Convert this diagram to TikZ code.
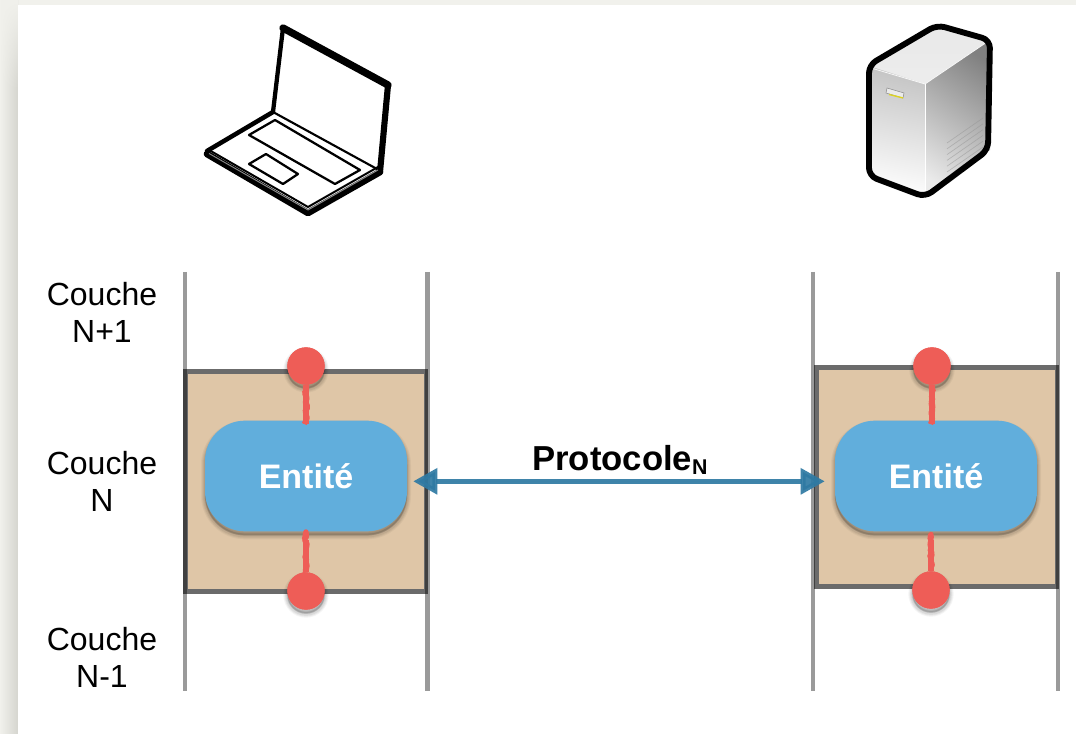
\documentclass[tikz,border=0pt]{standalone}
\usepackage{fontspec}
\setmainfont{Liberation Sans}
\usetikzlibrary{arrows.meta,shadows,decorations.pathmorphing,calc,fadings}
\definecolor{pagebg}{HTML}{F1F1EC}
\definecolor{pagedk}{HTML}{D5D5CF}
\definecolor{railc}{HTML}{9A9A9A}
\definecolor{tan}{HTML}{DFC6A7}
\definecolor{entc}{HTML}{61AEDC}
\definecolor{dotc}{HTML}{EE5D57}
\definecolor{arrowc}{HTML}{2F7AA3}
\tikzset{
  x=0.75pt,y=-0.75pt,
  softshadow/.style={
    drop shadow={shadow xshift=0pt,shadow yshift=-3pt,opacity=.04,fill=black,draw=black,line width=6pt},
    drop shadow={shadow xshift=0pt,shadow yshift=-3pt,opacity=.05,fill=black,draw=black,line width=4.5pt},
    drop shadow={shadow xshift=0pt,shadow yshift=-3pt,opacity=.06,fill=black,draw=black,line width=3pt},
    drop shadow={shadow xshift=0pt,shadow yshift=-2.5pt,opacity=.07,fill=black,draw=black,line width=1.5pt}},
  rail/.style={draw=railc,line width=3.6pt},
  layerfill/.style={fill=tan,minimum width=177pt,minimum height=161pt,inner sep=0pt},
  layerbox/.style={draw=black,draw opacity=.58,line width=3.6pt,minimum width=180.6pt,minimum height=164.6pt,inner sep=0pt},
  entity/.style={fill=entc,rounded corners=30pt,minimum width=151.5pt,minimum height=83pt,inner sep=0pt,softshadow},
  dot/.style={circle,fill=dotc,minimum size=28pt,inner sep=0pt,softshadow},
  stub/.style={draw=dotc,line width=4pt,postaction={draw=dotc,line width=4pt,line join=round,decorate,decoration={random steps,segment length=1.4pt,amplitude=.9pt}}},
  layertext/.style={font=\fontsize{24}{27.8}\selectfont,align=center,text=black},
  enttext/.style={font=\fontsize{25.5}{28}\selectfont\bfseries,text=white},
  laptopline/.style={draw=black,line join=round,line cap=round},
  srvline/.style={draw=black,line width=4.4pt,line join=round,rounded corners=6pt}
}
\begin{document}
\begin{tikzpicture}
\useasboundingbox (0,0) rectangle (1076,734);
\fill[pagebg] (0,0) rectangle (1076,734);
\shade[left color=pagebg,right color=pagedk] (0,0) rectangle (18,734);
\fill[pagebg,path fading=south] (0,0) rectangle (18,90);
\fill[white] (18,5) rectangle (1076,734);
% rails
\coordinate (r1t) at (185,272); \coordinate (r1b) at (185,691);
\coordinate (r2t) at (427.5,272); \coordinate (r2b) at (427.5,691);
\coordinate (r3t) at (813,272); \coordinate (r3b) at (813,691);
\coordinate (r4t) at (1058,272); \coordinate (r4b) at (1058,691);
\draw[rail] (r1t)--(r1b);
\draw[rail] (r2t)--(r2b);
\draw[rail] (r3t)--(r3b);
\draw[rail] (r4t)--(r4b);
% layer boxes
\node[layerfill] (fillL) at (305.5,481.5) {};
\node[layerfill] (fillR) at (936.5,477) {};
\node[layerbox] (boxL) at (305.5,481.5) {};
\node[layerbox] (boxR) at (936.5,477) {};
% entities and dots
\node[entity] (entL) at (306,476) {};
\node[entity] (entR) at (936,476) {};
\node[dot] (topL) at (306,366) {};
\node[dot] (botL) at (306,591) {};
\node[dot] (topR) at (932,366) {};
\node[dot] (botR) at (931,590) {};
\draw[stub,shorten >=-3pt] (topL) -- (topL |- entL.north);
\draw[stub,shorten >=6pt] (botL) -- (botL |- entL.south);
\draw[stub,shorten >=-3pt] (topR) -- (topR |- entR.north);
\draw[stub,shorten >=6pt] (botR) -- (botR |- entR.south);
\fill[dotc] (topL) circle (14pt) (botL) circle (14pt) (topR) circle (14pt) (botR) circle (14pt);
\node[enttext] (tL) at (306,476) {Entité};
\node[enttext] (tR) at (936,476) {Entité};
% protocol arrow
\draw[{Triangle[length=18pt,width=19pt]}-{Triangle[length=18pt,width=19pt]},draw=arrowc,fill=arrowc,line width=3.6pt,opacity=.92]
  ([xshift=4.5pt,yshift=-4pt]entL.east) -- ([xshift=-7.5pt,yshift=-4pt]entR.west);
\node[font=\fontsize{26}{28}\selectfont\bfseries,anchor=base west,inner sep=0pt] (proto) at (532,471)
  {Protocole\raisebox{-2.6pt}{\fontsize{16}{16}\selectfont N}};
% layer labels
\node[layertext] (c1) at (102,312.5) {Couche\\N+1};
\node[layertext] (c2) at (102,481.5) {Couche\\N};
\node[layertext] (c3) at (102,657.5) {Couche\\N-1};
% laptop
\fill[white] (273,112)--(284,26)--(388,84)--(380,172)--(308,213)--(207,152)--cycle;
\draw[laptopline,line width=3.2pt] (273,112)--(283,28);
\draw[laptopline,line width=5.5pt] (283,28)--(388,85);
\draw[laptopline,line width=4.6pt] (388,85)--(380,172);
\draw[laptopline,line width=3.4pt] (207,151)--(273,112);
\draw[laptopline,line width=1.6pt] (273,112)--(377,169);
\draw[laptopline,line width=5pt] (207,154)--(308,213)--(380,172);
\draw[draw=white!55!black,line width=.7pt,line join=round] (209,153.5)--(308,210)--(378,170);
\draw[laptopline,line width=1.5pt] (209,150)--(308,207)--(378,167);
\draw[laptopline,line width=1.7pt] (249,135)--(275,120)--(360,170)--(335,184)--cycle;
\draw[laptopline,line width=1.7pt] (249,164)--(266,154)--(298,174)--(283,184)--cycle;
% server
\begin{scope}
 \clip (871,68)--(937,27)--(987,42)--(925,84)--cycle;
 \shade[top color=white!91!black,bottom color=white!93!black] (860,20) rectangle (995,90);
\end{scope}
\begin{scope}
 \clip (869,66)--(925,84)--(925,197)--(869,176)--cycle;
 \shade[top color=white!76!black,bottom color=white,shading angle=-12] (860,60) rectangle (930,200);
\end{scope}
\begin{scope}
 \clip (925,84)--(990,40)--(990,150)--(925,197)--cycle;
 \shade[top color=white!50!black,bottom color=white!92!black,shading angle=-35] (915,35) rectangle (995,200);
\end{scope}
\draw[white!97!black,line width=.6pt] (871,68)--(925,84)--(987,42);
\draw[white,line width=.7pt] (925,84)--(925,195);
\fill[white!92!black] (887,88)--(904,93)--(903,98)--(886,93)--cycle;
\draw[white!55!black,line width=.4pt] (887,88)--(904,93)--(903,98)--(886,93)--cycle;
\draw[yellow!85!black,line width=1pt] (889,94.5)--(903,98);
\foreach \i in {0,...,5}{
  \draw[white!58!black,opacity=.5,line width=.5pt] (947,{143+\i*5.8})--(983,{118+\i*5.8});
}
\draw[srvline] (869,65)--(937,25)--(990,40)--(988,150)--(925,197)--(869,176)--cycle;
\end{tikzpicture}
\end{document}
